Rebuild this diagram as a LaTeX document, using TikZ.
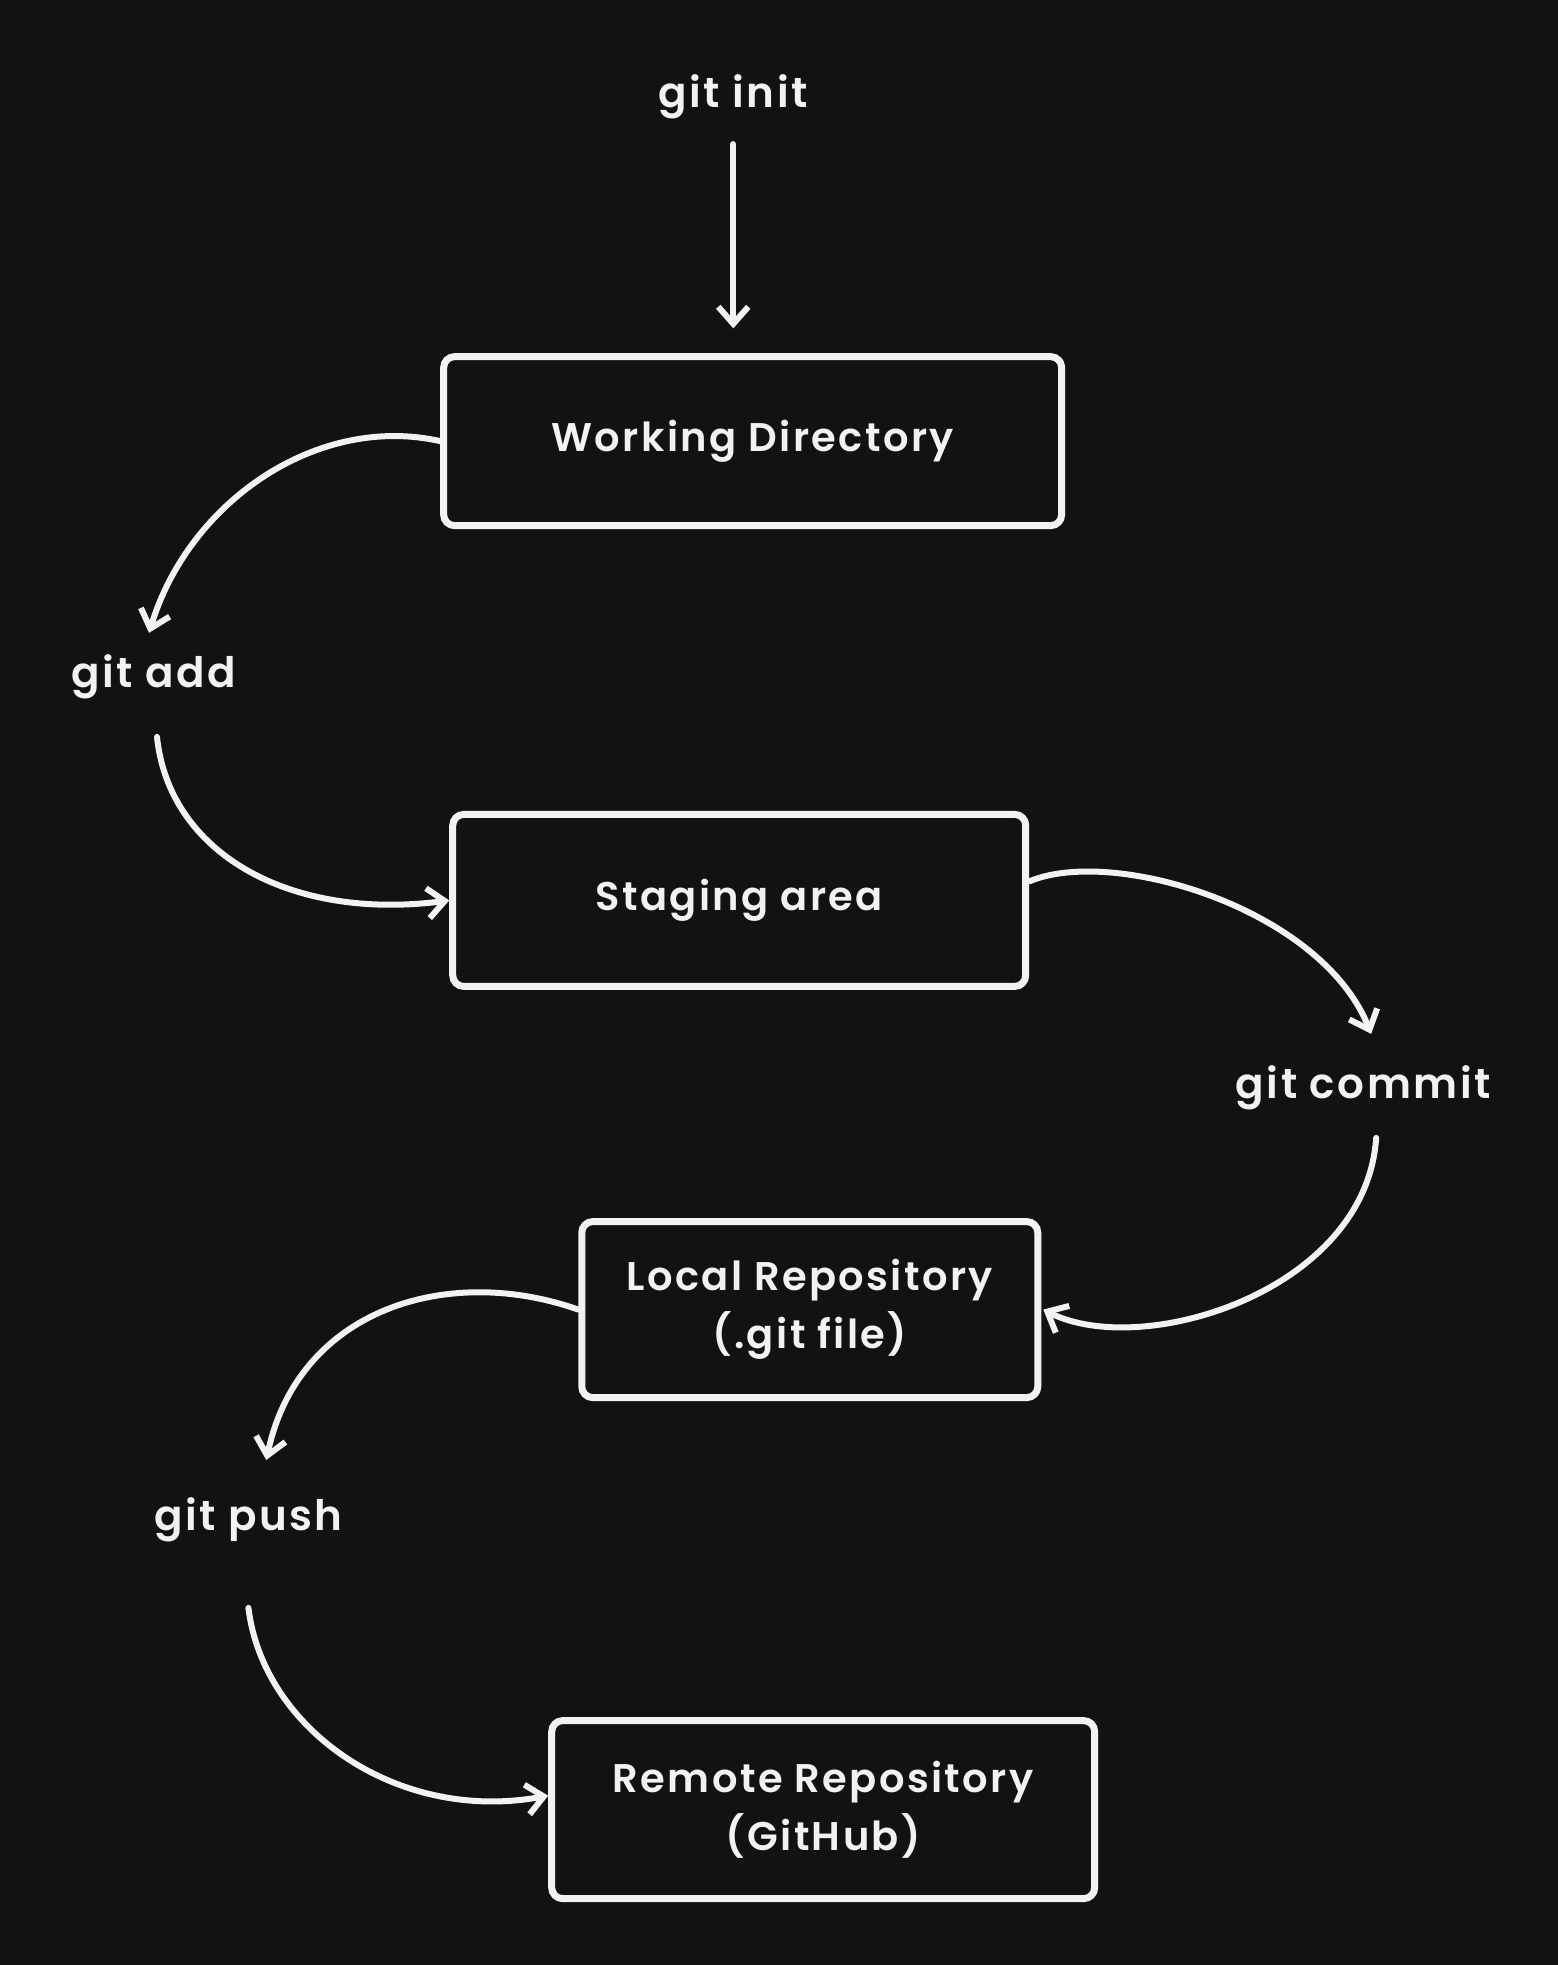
\documentclass[tikz,border=0pt]{standalone}
\usepackage{fontspec}
\setmainfont{Poppins}[BoldFont={* SemiBold}, LetterSpace=6]
\usetikzlibrary{arrows.meta}
\definecolor{bg}{HTML}{121212}
\definecolor{fg}{HTML}{F2F2F2}
\begin{document}
\begin{tikzpicture}[x=0.9936pt,y=-1.2532pt,
  box/.style={draw=fg, line width=7pt, rounded corners=11pt, text=fg,
    font=\bfseries\fontsize{40}{58}\selectfont, align=center, inner sep=0pt},
  lbl/.style={text=fg, font=\bfseries\fontsize{42}{50}\selectfont, inner sep=0pt},
  arr/.style={draw=fg, line width=6pt, line cap=round,
    -{Straight Barb[length=17pt,width=30pt]}}]
\fill[bg] (0,0) rectangle (1568,1568);
\useasboundingbox (0,0) rectangle (1568,1568);

% boxes
\node[box, minimum width=618pt, minimum height=169pt] (wd) at (757.5,352) {Working Directory};
\node[box, minimum width=573pt, minimum height=172pt] (stage) at (744,718.5) {Staging area};
\node[box, minimum width=456pt, minimum height=176pt] (local) at (815,1045) {Local Repository\\(.git file)};
\node[box, minimum width=543pt, minimum height=178pt] (remote) at (828.5,1444) {Remote Repository\\(GitHub)};

% labels
\node[lbl] (init) at (738,77) {git init};
\node[lbl] (add) at (155,540) {git add};
\node[lbl] (commit) at (1372,868) {git commit};
\node[lbl] (push) at (250,1213) {git push};

% free ends
\coordinate (initS) at (738,115);
\coordinate (wdT) at (738,262);
\coordinate (addT) at (150,505);
\coordinate (addB) at (158,588);
\coordinate (comT) at (1380,825);
\coordinate (comB) at (1385,908);
\coordinate (pushT) at (268,1165);
\coordinate (pushB) at (250,1283);

% connectors
\draw[arr] (initS) -- (wdT);
\draw[arr] (wd.west) .. controls (320,330) and (190,400) .. (addT);
\draw[arr] (addB) .. controls (170,680) and (290,735) .. (stage.west);
\draw[arr] ([yshift=19pt]stage.east) .. controls (1120,675) and (1330,725) .. (comT);
\draw[arr] (comB) .. controls (1375,1030) and (1150,1085) .. ([xshift=2pt]local.east);
\draw[arr] (local.west) .. controls (450,1008) and (300,1045) .. (pushT);
\draw[arr] (pushB) .. controls (265,1380) and (400,1455) .. ([yshift=14pt]remote.west);
\end{tikzpicture}
\end{document}
